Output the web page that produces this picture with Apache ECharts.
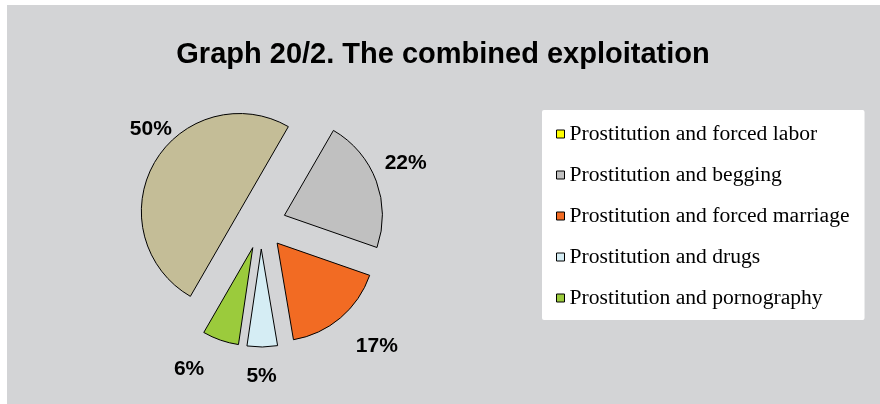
<!DOCTYPE html>
<html>
<head>
<meta charset="utf-8">
<script src="https://cdn.jsdelivr.net/npm/echarts@6/dist/echarts.min.js"></script>
<style>
html,body{margin:0;padding:0;background:#fff;}
#bg{position:absolute;left:7px;top:5px;width:873px;height:399px;background:#d3d4d6;}
#chart{position:absolute;left:0;top:0;width:880px;height:404px;}
</style>
</head>
<body>
<div id="bg"></div>
<div id="chart"></div>
<script>
const categories = [
  'Prostitution and forced labor',
  'Prostitution and begging',
  'Prostitution and forced marriage',
  'Prostitution and drugs',
  'Prostitution and pornography'
];
const values = [50, 22, 17, 5, 6];
const sliceColors = ['#c4bd97', '#c0c0c0', '#f26b23', '#d5edf4', '#9bcb3c'];
const legendColors = ['#ffff00', '#c0c0c0', '#f26b23', '#d5edf4', '#9bcb3c'];
const labelNudge = [[31, -28], [-6, -14], [4, 21], [-21, 19], [-8, 20]];

const chart = echarts.init(document.getElementById('chart'), null, {renderer: 'canvas'});
chart.setOption({
  animation: false,
  title: {
    text: 'Graph 20/2. The combined exploitation',
    left: 438, top: 35, textAlign: 'center',
    textStyle: {fontFamily: 'Arial, Liberation Sans', fontWeight: 'bold', fontSize: 29, color: '#000'}
  },
  legend: {
    orient: 'vertical',
    left: 542, top: 110,
    padding: [13, 15, 11, 14],
    backgroundColor: '#fff',
    borderRadius: 2,
    itemWidth: 8, itemHeight: 8, itemGap: 19,
    icon: 'rect',
    selectedMode: false,
    textStyle: {fontFamily: 'Liberation Serif, Times New Roman, serif', fontSize: 21.6, lineHeight: 21, color: '#000', padding: [0, 0, 0, 0]},
    data: categories.map((n, i) => ({name: n, itemStyle: {color: legendColors[i], borderColor: '#000', borderWidth: 1}}))
  },
  series: [{
    type: 'pie',
    center: [261, 224],
    radius: 98,
    startAngle: 240,
    clockwise: true,
    selectedMode: 'multiple',
    selectedOffset: 25,
    avoidLabelOverlap: false,
    emphasis: {disabled: true},
    itemStyle: {borderColor: '#000', borderWidth: 1},
    select: {itemStyle: {borderColor: '#000', borderWidth: 1}},
    label: {
      show: true, position: 'outside',
      formatter: p => p.value + '%',
      fontFamily: 'Arial, Liberation Sans', fontWeight: 'bold', fontSize: 21, color: '#000'
    },
    labelLine: {show: false, length: 10, length2: 0},
    labelLayout: p => ({dx: labelNudge[p.dataIndex][0], dy: labelNudge[p.dataIndex][1]}),
    data: categories.map((n, i) => ({name: n, value: values[i], selected: true, itemStyle: {color: sliceColors[i]}}))
  }]
});
</script>
</body>
</html>
